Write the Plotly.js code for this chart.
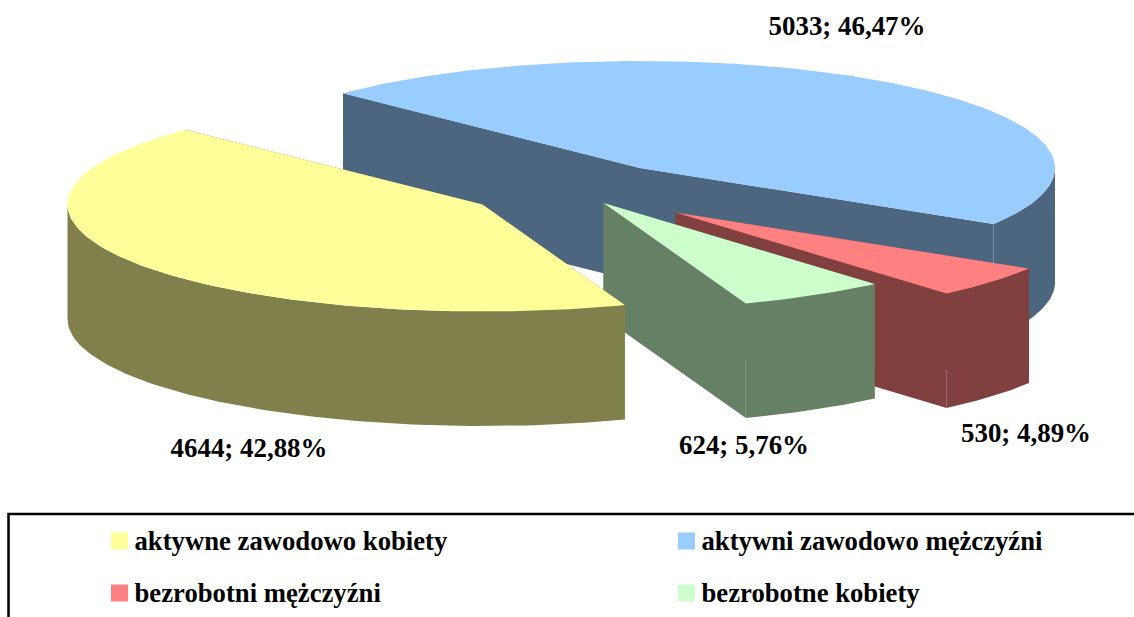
<!DOCTYPE html>
<html>
<head>
<meta charset="utf-8">
<script src="https://cdn.plot.ly/plotly-3.0.1.min.js"></script>
<style>html,body{margin:0;padding:0;background:#fff;overflow:hidden}#chart{width:1134px;height:617px}</style>
</head>
<body>
<div id="chart"></div>
<script>
// Data
const categories = ["aktywne zawodowo kobiety", "aktywni zawodowo mężczyźni", "bezrobotni mężczyźni", "bezrobotne kobiety"];
const values = [4644, 5033, 530, 624];
// Styles
const topColors = ["#FFFF99", "#99CCFF", "#FF8080", "#CCFFCC"];
const sideColors = ["#80804D", "#4D6680", "#804040", "#668066"];
// Pie geometry (axis units equal pixels)
const center = [640, 168], rx = 415, ry = 107, depth = 114.5, firstAngle = 159.95;
const explode = [[-157.5, 36.5], [0, 0], [35.5, 44.5], [-36.5, 35]];
const labelPos = [[249, 450.5], [847, 28.5], [1026, 435.5], [744, 447.5]];
const legendPos = [[119.5, 541], [686.5, 541], [119.5, 593], [686.5, 593]];
const drawOrder = [1, 2, 3, 0];

const total = values.reduce((a, b) => a + b, 0);
const rad = d => d * Math.PI / 180;
const spans = values.map(v => v / total * 360);
const starts = [];
spans.reduce((a, s, i) => { starts[i] = a; return a + s; }, firstAngle);

function rim(i, a, b) {
  const cx = center[0] + explode[i][0], cy = center[1] + explode[i][1];
  const pts = [], n = Math.max(2, Math.ceil(Math.abs(b - a)));
  for (let k = 0; k <= n; k++) {
    const t = rad(a + (b - a) * k / n);
    pts.push([cx + rx * Math.sin(t), cy - ry * Math.cos(t)]);
  }
  return pts;
}
function poly(pts, color, name) {
  return { type: "scatter", mode: "lines", x: pts.map(p => p[0]), y: pts.map(p => p[1]),
    fill: "toself", fillcolor: color, line: { width: 0, color: color }, name: name,
    showlegend: false, hoverinfo: "skip" };
}
const down = pts => pts.map(p => [p[0], p[1] + depth]);

const traces = [];
drawOrder.forEach(i => {
  const a = starts[i], b = a + spans[i];
  const apex = [center[0] + explode[i][0], center[1] + explode[i][1]];
  const arc = rim(i, a, b);
  const first = arc[0], last = arc[arc.length - 1];
  // cut faces
  traces.push(poly([apex, first, [first[0], first[1] + depth], [apex[0], apex[1] + depth], apex], sideColors[i], categories[i]));
  traces.push(poly([apex, last, [last[0], last[1] + depth], [apex[0], apex[1] + depth], apex], sideColors[i], categories[i]));
  // outer rim: only the front half of the ellipse is visible
  [0, 360].forEach(turn => {
    const lo = Math.max(a, 90 + turn), hi = Math.min(b, 270 + turn);
    if (hi > lo) {
      const vis = rim(i, lo, hi);
      const r = vis.concat(down(vis).reverse());
      r.push(r[0]);
      traces.push(poly(r, sideColors[i], categories[i]));
    }
  });
  // top
  const t = [apex].concat(arc, [apex]);
  traces.push(poly(t, topColors[i], categories[i]));
});

// data labels
const fmtPct = v => (v / total * 100).toFixed(2).replace(".", ",") + "%";
traces.push({ type: "scatter", mode: "text", x: labelPos.map(p => p[0]), y: labelPos.map(p => p[1]),
  text: values.map(v => v + "; " + fmtPct(v)), textposition: "middle center",
  textfont: { family: "Liberation Serif", size: 26.9, color: "#000", weight: 700 },
  showlegend: false, hoverinfo: "skip" });

// legend
traces.push({ type: "scatter", mode: "markers", x: legendPos.map(p => p[0]), y: legendPos.map(p => p[1]),
  marker: { symbol: "square", size: 17, color: topColors, line: { width: 0 } },
  showlegend: false, hoverinfo: "skip" });
traces.push({ type: "scatter", mode: "text", x: legendPos.map(p => p[0] + 15), y: legendPos.map(p => p[1] + 2.5),
  text: categories, textposition: "middle right",
  textfont: { family: "Liberation Serif", size: 26.7, color: "#000", weight: 700 },
  showlegend: false, hoverinfo: "skip" });

const layout = {
  width: 1134, height: 617, margin: { l: 0, r: 0, t: 0, b: 0 },
  paper_bgcolor: "#fff", plot_bgcolor: "#fff", showlegend: false,
  xaxis: { range: [0, 1134], visible: false, fixedrange: true },
  yaxis: { range: [617, 0], visible: false, fixedrange: true },
  shapes: [{ type: "path", path: "M 8.5 640 L 8.5 514 L 1160 514", line: { color: "#000", width: 2.5 } }]
};
Plotly.newPlot("chart", traces, layout, { displayModeBar: false, staticPlot: true });
</script>
</body>
</html>
